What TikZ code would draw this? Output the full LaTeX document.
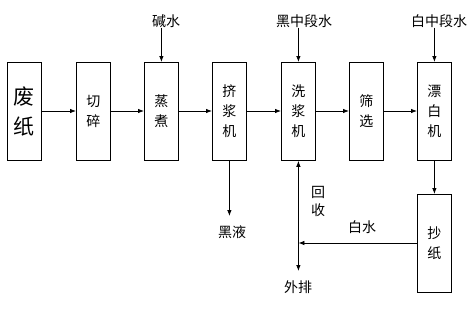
\documentclass[tikz,border=0pt]{standalone}
\usepackage{fontspec}
\newfontfamily\cjk{Noto Sans CJK SC}
\usetikzlibrary{arrows.meta}
\begin{document}
\begin{tikzpicture}[x=1pt,y=-1pt,
  box/.style={draw,line width=0.8pt,minimum width=34pt,minimum height=98pt,inner sep=0pt,anchor=north west,font=\cjk\fontsize{14}{20}\selectfont,align=center},
  lbl/.style={font=\cjk\fontsize{14}{16}\selectfont,inner sep=0pt},
  arr/.style={line width=0.8pt,-{Latex[length=6pt,width=4.5pt]}}]
\useasboundingbox (0,0) rectangle (475,309);
\node[box,font=\cjk\fontsize{21}{30}\selectfont] (b1) at (7,62) {废\\纸};
\node[box] (b2) at (76,62) {切\\碎};
\node[box] (b3) at (144,62) {蒸\\煮};
\node[box] (b4) at (212,62) {挤\\浆\\机};
\node[box] (b5) at (281,62) {洗\\浆\\机};
\node[box] (b6) at (349,62) {筛\\选};
\node[box] (b7) at (417,62) {漂\\白\\机};
\node[box,minimum height=98pt] (b8) at (417,194) {抄\\纸};
\foreach \a/\b in {b1/b2,b2/b3,b3/b4,b4/b5,b5/b6,b6/b7}
  \draw[arr] (\a.east |- 0,111) -- (\b.west |- 0,111);
\node[lbl] (t1) at (166,21) {碱水};
\node[lbl] (t2) at (304,21) {黑中段水};
\node[lbl] (t3) at (439,21) {白中段水};
\draw[arr] (t1.south -| b3) -- (b3.north);
\draw[arr] (t2.south -| b5) -- (b5.north);
\draw[arr] (t3.south -| b7) -- (b7.north);
\node[lbl] (t4) at (232,232) {黑液};
\coordinate (e4) at (b4.south |- 0,216);
\draw[arr] (b4.south) -- (e4);
\draw[arr] (b7.south) -- (b8.north);
\coordinate (j) at (b5.south |- 0,243);
\node[lbl] (t5) at (298,287) {外排};
\coordinate (e5) at (b5.south |- 0,271);
\draw[arr] (j) -- (b5.south);
\draw[arr] (j) -- (e5);
\draw[arr] (b8.west |- j) -- (j);
\node[lbl] (t6) at (362,227) {白水};
\node[lbl,align=center,font=\cjk\fontsize{14}{18}\selectfont] (t7) at (318,201) {回\\收};
\end{tikzpicture}
\end{document}
